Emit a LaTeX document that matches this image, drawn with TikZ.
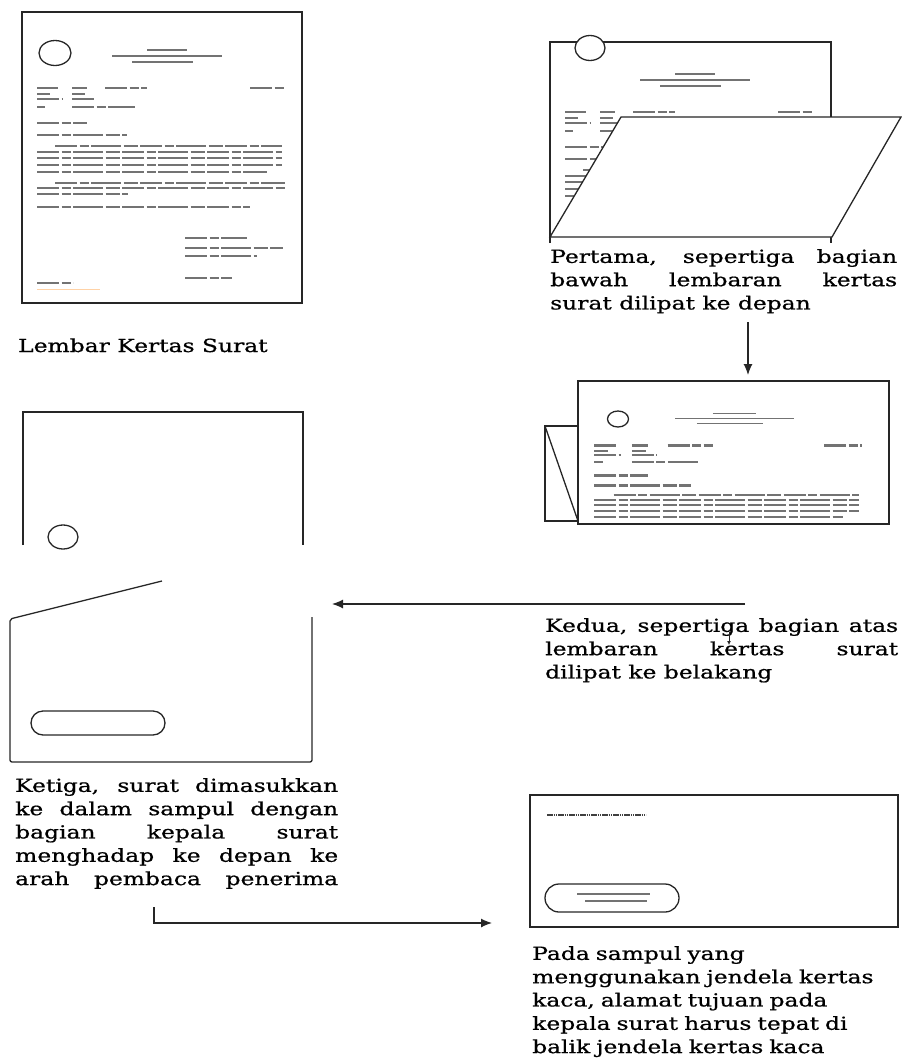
\documentclass[tikz,border=0pt]{standalone}
\usepackage{fontspec}
\setmainfont{DejaVu Serif}[FakeStretch=1.3, FakeBold=0.8]
\usetikzlibrary{arrows.meta, positioning}

% blurred lines of the sample letter, in the coordinates of the first sheet
\newcommand\letterbody{%
    \foreach \ya/\xa/\xb in {50/147/187, 56/112/222, 62/132/193}
        \draw[kop] (\xa,\ya) -- (\xb,\ya);
    \foreach \ya/\xa/\xb in {88/37/58, 88/72/87, 88/105/147, 88/250/285,
        94/37/50, 94/72/85, 99/37/62, 99/72/95, 107/37/45, 107/72/135,
        123/37/87, 135/37/127,
        146/55/282, 152/37/282, 158/37/282, 165/37/282, 172/37/267,
        183/55/285, 188/37/285, 194/37/128, 207/37/250,
        238/185/247, 248/185/283, 256/185/257, 278/185/232, 283/37/73}
        \draw[baris] (\xa,\ya) -- (\xb,\ya);
    \draw[orange!35, line width=0.8pt] (37,289) -- (100,289);
}

\begin{document}
\begin{tikzpicture}[x=1pt, y=-1pt]
    \tikzstyle{kertas}=[draw=black!85, line width=1.3pt]
    \tikzstyle{kop}=[black!55, line width=1.5pt]
    \tikzstyle{baris}=[black!55, line width=2.4pt,
        dash pattern=on 22pt off 2.5pt on 9pt off 2.5pt on 30pt off 2.5pt on 14pt off 2.5pt]
    \tikzstyle{panah}=[black!85, line width=1.2pt, -{Latex[length=11pt,width=9pt]}]
    \tikzstyle{teks}=[font=\fontsize{18pt}{23.3pt}\selectfont, inner sep=0pt, anchor=north west]
    \useasboundingbox (0,0) rectangle (902,1058);

    % lembar kertas surat
    \draw[kertas, line width=1.6pt] (22,12) rectangle (302,303);
    \draw[kertas] (55,53) ellipse (16 and 12.5);
    \letterbody
    \node[teks, anchor=base west] (lembar) at (18,352) {Lembar Kertas Surat};

    % pertama
    \draw[kertas, fill=white] (550,243) -- (550,42) -- (831,42) -- (831,243);
    \begin{scope}
        \clip (550,42) rectangle (831,237);
        \begin{scope}[shift={(528,24)}]
            \letterbody
        \end{scope}
    \end{scope}
    \draw[kertas, fill=white] (590,48) ellipse (15 and 12.5);
    \draw[kertas, fill=white] (550,237) -- (621,117) -- (901,117) -- (832,237) -- cycle;
    \node[teks, text width=347pt, align=justify] (pertama) at (550,249)
        {Pertama, sepertiga bagian\linebreak bawah lembaran kertas\linebreak surat dilipat ke depan};

    % kedua
    \draw[kertas] (545,426) rectangle (578,521);
    \draw[kertas] (545,426) -- (578,521);
    \draw[kertas, fill=white] (578,381) rectangle (889,524);
    \begin{scope}
        \clip (578,381) rectangle (889,524);
        \begin{scope}[shift={(554.2,370.8)}, xscale=1.08, yscale=0.85]
            \letterbody
        \end{scope}
    \end{scope}
    \draw[kertas] (618,419) ellipse (10.5 and 8);
    \node[teks, text width=353pt, align=justify] (kedua) at (545,618)
        {Kedua, sepertiga bagian atas\linebreak lembaran kertas surat\linebreak dilipat ke belakang};

    % ketiga: sampul
    \draw[kertas] (23,545) -- (23,412) -- (303,412) -- (303,545);
    \draw[kertas] (63,537) ellipse (15 and 12);
    \draw[kertas, rounded corners=2pt] (162,581) -- (10,619) -- (10,762) -- (312,762) -- (312,617);
    \draw[kertas, rounded corners=12pt] (31,711) rectangle (165,735);
    \node[teks, text width=323pt, align=justify] (ketiga) at (15,778)
        {Ketiga, surat dimasukkan\linebreak ke dalam sampul dengan\linebreak bagian kepala surat\linebreak menghadap ke depan ke\linebreak arah pembaca penerima\parfillskip=0pt\par};

    % sampul berjendela
    \draw[kertas, line width=1.8pt] (530,795) rectangle (898,927);
    \draw[black!75, line width=1.3pt, dash pattern=on 1.6pt off 0.6pt] (547,815) -- (646,815);
    \draw[kertas, rounded corners=14pt] (545,884) rectangle (679,912);
    \draw[kop, line width=1.8pt] (577,894) -- (650,894);
    \draw[kop, line width=1.8pt] (585,901) -- (647,901);
    \node[teks, text width=370pt, align=left] (pada) at (532,946)
        {Pada sampul yang\\ menggunakan jendela kertas\\ kaca, alamat tujuan pada\\ kepala surat harus tepat di\\ balik jendela kertas kaca};

    % panah
    \coordinate (p1a) at (748,322);
    \coordinate (p1b) at (748,375);
    \coordinate (p2a) at (745,604);
    \coordinate (p2b) at (332,604);
    \coordinate (p3a) at (154,907);
    \coordinate (p3b) at (492,923);
    \coordinate (p4a) at (729,632);
    \coordinate (p4b) at (729,645);
    \draw[panah] (p1a) -- (p1b);
    \draw[panah] (p2a) -- (p2b);
    \draw[panah] (p3a) |- (p3b);
    \draw[black!85, line width=1pt, -{Latex[length=4pt,width=4pt]}] (p4a) -- (p4b);
\end{tikzpicture}
\end{document}
